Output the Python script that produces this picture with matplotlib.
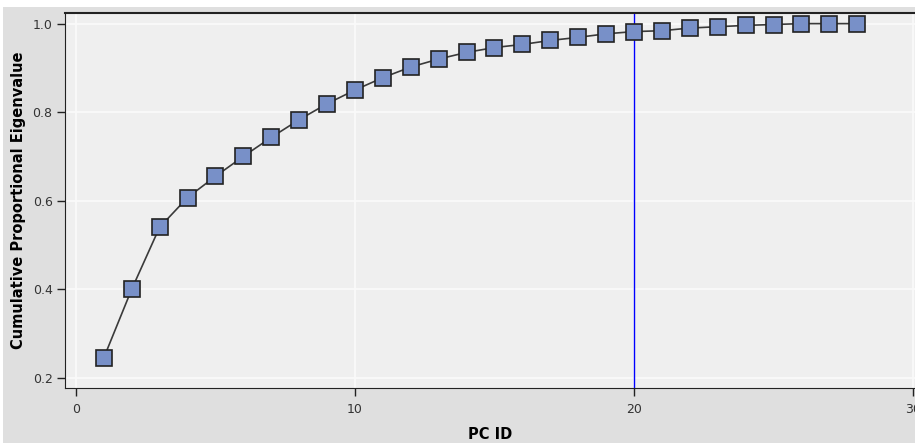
import matplotlib
matplotlib.use("Agg")
import matplotlib.pyplot as plt
from matplotlib.patches import Rectangle

pc_id = list(range(1, 29))
cum_eig = [0.245, 0.400, 0.540, 0.607, 0.655, 0.700, 0.743, 0.783, 0.819, 0.850,
           0.878, 0.902, 0.920, 0.935, 0.946, 0.953, 0.962, 0.969, 0.977, 0.982,
           0.984, 0.990, 0.993, 0.996, 0.998, 1.000, 1.000, 1.000]
x_ticks = [0, 10, 20, 30]
y_ticks = [0.2, 0.4, 0.6, 0.8, 1.0]
cutoff = 20

plt.rcParams['font.family'] = ['DejaVu Sans']
fig = plt.figure(figsize=(9.15, 4.43), dpi=100)
fig.patch.set_facecolor('white')
fig.add_artist(Rectangle((0.003, 0), 0.997, 1 - 7/443, transform=fig.transFigure,
                         facecolor='#dfdfdf', edgecolor='none', zorder=-10))

ax = fig.add_axes([65/915, 1 - 388/443, (915 - 65)/915, (388 - 13)/443])
ax.set_facecolor('#efefef')
ax.set_xlim(-0.39, 30.07)
ax.set_ylim(0.177, 1.024)
ax.set_xticks(x_ticks)
ax.set_yticks(y_ticks)
ax.set_xticklabels([str(v) for v in x_ticks])
ax.set_yticklabels([f"{v:.1f}" for v in y_ticks])
ax.grid(True, color='#fafafa', linewidth=1.2, zorder=0)
ax.set_axisbelow(True)

ax.axvline(cutoff, color='#0000ff', linewidth=1.0, zorder=2)
ax.plot(pc_id, cum_eig, color='#3a3a3a', linewidth=1.2, marker='s', markersize=12,
        markerfacecolor='#7890c8', markeredgecolor='#222222', markeredgewidth=1.2, zorder=3)

for s in ['left', 'bottom', 'top']:
    ax.spines[s].set_color('#222222')
ax.spines['top'].set_linewidth(1.5)
ax.spines['right'].set_visible(False)
ax.tick_params(axis='both', direction='out', length=6, width=1, color='#222222',
               labelsize=9, labelcolor='#333333')
ax.tick_params(axis='x', pad=5)
ax.tick_params(axis='y', pad=3)

ax.set_ylabel('Cumulative Proportional Eigenvalue', fontsize=10.5, fontweight='bold', labelpad=5)
ax.set_xlabel('PC ID', fontsize=10.5, fontweight='bold', labelpad=8)

fig.savefig('out.png', dpi=100, facecolor=fig.get_facecolor())
